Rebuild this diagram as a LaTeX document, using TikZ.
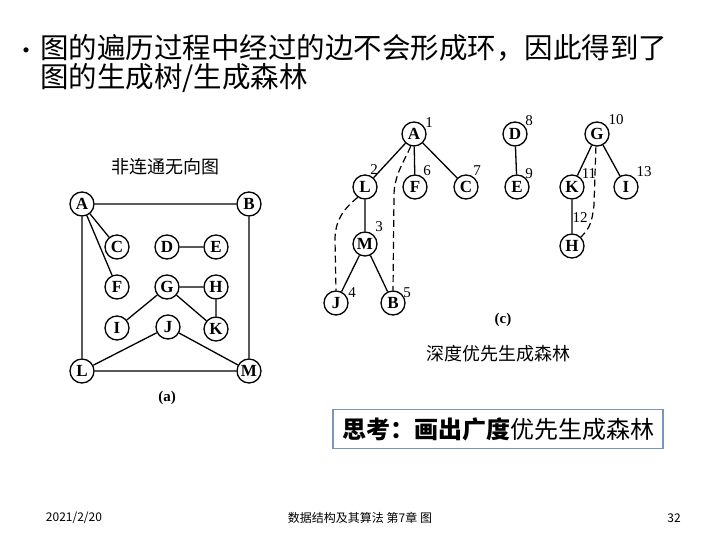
\documentclass[tikz,border=0pt]{standalone}
\usepackage{fontspec}
\setmainfont{Liberation Serif}
\newfontfamily\cjk{Noto Sans CJK SC}
\definecolor{boxblue}{RGB}{120,150,185}
\tikzset{
  vtx/.style={circle,draw,line width=1.3pt,minimum size=24pt,inner sep=0pt,font=\fontsize{17}{17}\selectfont\bfseries},
  edg/.style={line width=1.3pt},
  dedg/.style={line width=1.2pt,dash pattern=on 7pt off 4pt},
  num/.style={font=\fontsize{15}{15}\selectfont,inner sep=0pt},
  cjktxt/.style={inner sep=0pt,font=\cjk\fontsize{#1}{#1}\selectfont},
}
\begin{document}
\begin{tikzpicture}[x=1pt,y=-1pt]
\useasboundingbox (0,0) rectangle (720,540);
% title
\node[cjktxt=24,anchor=base east] (bul) at (39,60) {•};
\node[cjktxt=28.5,anchor=west] (t1) at (40,48) {图的遍历过程中经过的边不会形成环，因此得到了};
\node[cjktxt=28.5,anchor=west] (t2) at (40,78) {图的生成树/生成森林};
% graph (a)
\node[cjktxt=18] (capa) at (165,167) {非连通无向图};
\node[vtx] (aA) at (82,204) {A};
\node[vtx] (aB) at (249,204) {B};
\node[vtx] (aC) at (117,247) {C};
\node[vtx] (aD) at (167,247) {D};
\node[vtx] (aE) at (216,247) {E};
\node[vtx] (aF) at (117,287) {F};
\node[vtx] (aG) at (167,287) {G};
\node[vtx] (aH) at (216,287) {H};
\node[vtx] (aI) at (117,328) {I};
\node[vtx] (aJ) at (168,327) {J};
\node[vtx] (aK) at (216,329) {K};
\node[vtx] (aL) at (82,371) {L};
\node[vtx] (aM) at (249,371) {M};
\draw[edg] (aA)--(aB) (aA)--(aC) (aA)--(aF) (aA)--(aL) (aB)--(aM) (aL)--(aM)
  (aD)--(aE) (aG)--(aH) (aH)--(aK) (aG)--(aI) (aG)--(aK) (aJ)--(aL) (aJ)--(aM);
\node[num,font=\fontsize{15}{15}\selectfont\bfseries] (la) at (167,398) {(a)};
% tree (c)
\node[vtx] (cA) at (414,134) {A};
\node[vtx] (cL) at (365,187) {L};
\node[vtx] (cF) at (415,187) {F};
\node[vtx] (cC) at (466,187) {C};
\node[vtx] (cM) at (365,244) {M};
\node[vtx] (cJ) at (336,303) {J};
\node[vtx] (cB) at (393,303) {B};
\node[vtx] (cD) at (515,134) {D};
\node[vtx] (cE) at (517,187) {E};
\node[vtx] (cG) at (597,134) {G};
\node[vtx] (cK) at (572,187) {K};
\node[vtx] (cI) at (626,187) {I};
\node[vtx] (cH) at (572,246) {H};
\draw[edg] (cA)--(cL) (cA)--(cF) (cA)--(cC) (cL)--(cM) (cM)--(cJ) (cM)--(cB)
  (cD)--(cE) (cG)--(cK) (cG)--(cI) (cK)--(cH);
\draw[dedg] (cL.235) .. controls (342,210) and (335,222) .. (335,240) -- (cJ.north);
\draw[dedg] (cA.255) .. controls (404,162) and (394,175) .. (394,196) -- (cB.north);
\draw[dedg] (cG.265) -- (594,205) .. controls (592,222) and (590,228) .. (cH.45);
\node[num] (n1) at (429,123) {1};
\node[num] (n2) at (374,170) {2};
\node[num] (n6) at (427,171) {6};
\node[num] (n7) at (477,171) {7};
\node[num] (n3) at (379,227) {3};
\node[num] (n4) at (352,293) {4};
\node[num] (n5) at (407,293) {5};
\node[num] (n8) at (529,121) {8};
\node[num] (n9) at (529,174) {9};
\node[num] (n10) at (616,120) {10};
\node[num] (n11) at (589,174) {11};
\node[num] (n12) at (580,218) {12};
\node[num] (n13) at (644,172) {13};
\node[num,font=\fontsize{15}{15}\selectfont\bfseries] (lc) at (503,320) {(c)};
\node[cjktxt=18] (capc) at (498,354) {深度优先生成森林};
% box
\node[draw=boxblue,line width=1.5pt,minimum width=330pt,minimum height=39pt,inner sep=0pt,font=\cjk\fontsize{24}{24}\selectfont] (think) at (498,429) {\textbf{思考：画出广度}优先生成森林};
% footer
\node[cjktxt=12] (date) at (74,518) {2021/2/20};
\node[cjktxt=12] (foot) at (360,518) {数据结构及其算法 第7章 图};
\node[cjktxt=12] (page) at (674,518) {32};
\end{tikzpicture}
\end{document}
